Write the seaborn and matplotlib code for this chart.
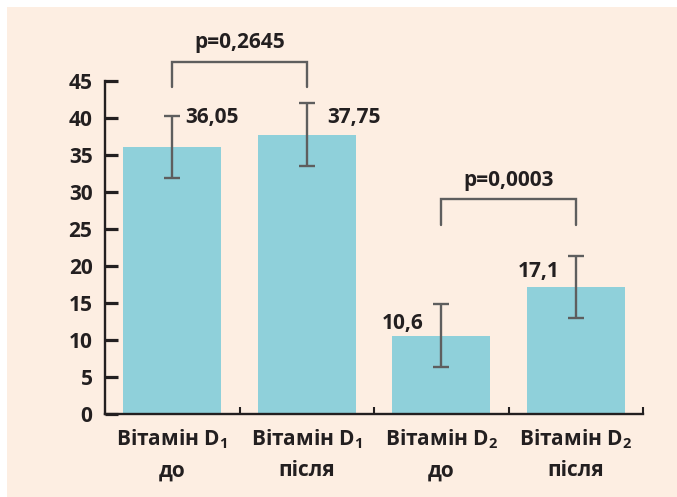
import numpy as np
import pandas as pd
import matplotlib
matplotlib.use('Agg')
import matplotlib.pyplot as plt
import seaborn as sns

# values
groups = ['D1 до', 'D1 після', 'D2 до', 'D2 після']
tick_labels = ['Вітамін D$_1$\nдо', 'Вітамін D$_1$\nпісля',
               'Вітамін D$_2$\nдо', 'Вітамін D$_2$\nпісля']
means = [36.05, 37.75, 10.6, 17.1]
errs = [4.2, 4.2, 4.2, 4.2]
value_labels = ['36,05', '37,75', '10,6', '17,1']
p_values = ['p=0,2645', 'p=0,0003']
pairs = [(0, 1), (2, 3)]
bracket_tops = [47.6, 29.0]

bar_color = '#8fd0da'
bg = '#fdeee2'
ink = '#231f20'
err_color = '#5e5e5e'

sns.set_style('white')
plt.rcParams['font.family'] = ['Open Sans', 'DejaVu Sans']
plt.rcParams['font.weight'] = 'bold'
plt.rcParams['mathtext.fontset'] = 'custom'
plt.rcParams['mathtext.rm'] = 'Open Sans:bold'
plt.rcParams['mathtext.it'] = 'Open Sans:bold'
plt.rcParams['mathtext.bf'] = 'Open Sans:bold'

fig = plt.figure(figsize=(6.77, 4.97), dpi=100, facecolor='white')
fig.patches.append(plt.Rectangle((7 / 677, 0), 1, 1 - 7 / 497, transform=fig.transFigure,
                                 facecolor=bg, edgecolor='none', zorder=-10))
ax = fig.add_axes([105 / 677, 83 / 497, 538 / 677, 385 / 497])
ax.set_facecolor('none')

df = pd.DataFrame({'group': groups, 'mean': means})
sns.barplot(data=df, x='group', y='mean', color=bar_color, saturation=1,
            width=0.73, errorbar=None, linewidth=0, ax=ax)
ax.errorbar(np.arange(len(groups)), means, yerr=errs, fmt='none',
            ecolor=err_color, elinewidth=1.7, capsize=5.5, capthick=1.7, zorder=5)

ax.set_xlim(-0.5, 3.5)
ax.set_ylim(0, 52)
ax.set_yticks(range(0, 50, 5))
ax.set_xlabel('')
ax.set_ylabel('')

for s in ['top', 'right']:
    ax.spines[s].set_visible(False)
for s in ['left', 'bottom']:
    ax.spines[s].set_linewidth(1.7)
    ax.spines[s].set_color(ink)
ax.spines['left'].set_bounds(0, 45)

ax.tick_params(axis='y', left=True, direction='in', length=9, width=2.3, color=ink,
               labelsize=15, pad=9, labelcolor=ink)
ax.set_xticks(range(len(groups)))
ax.set_xticklabels(tick_labels, fontsize=15, color=ink, linespacing=1.55)
ax.tick_params(axis='x', bottom=False, length=0, pad=10)
ax.set_xticks([0.5, 1.5, 2.5, 3.5], minor=True)
ax.tick_params(axis='x', which='minor', bottom=True, direction='in', length=5,
               width=1.5, color=ink)
for lab in ax.get_yticklabels():
    lab.set_fontweight('bold')

# value labels
offsets = [(0.1, 40.0, 'left'), (0.155, 40.0, 'left'), (-0.13, 12.2, 'right'), (-0.12, 19.2, 'right')]
for i, (dx, y, ha) in enumerate(offsets):
    ax.text(i + dx, y, value_labels[i], ha=ha, va='center', fontsize=15,
            fontweight='bold', color=ink)

# significance brackets
for (a, b), top, p in zip(pairs, bracket_tops, p_values):
    ax.plot([a, a, b, b], [top - 3.5, top, top, top - 3.5], color=err_color,
            lw=1.7, clip_on=False, solid_joinstyle='miter')
    ax.text((a + b) / 2, top + 2.6, p, ha='center', va='center', fontsize=15,
            fontweight='bold', color=ink, clip_on=False)

fig.savefig('out.png', dpi=100, facecolor=fig.get_facecolor())
